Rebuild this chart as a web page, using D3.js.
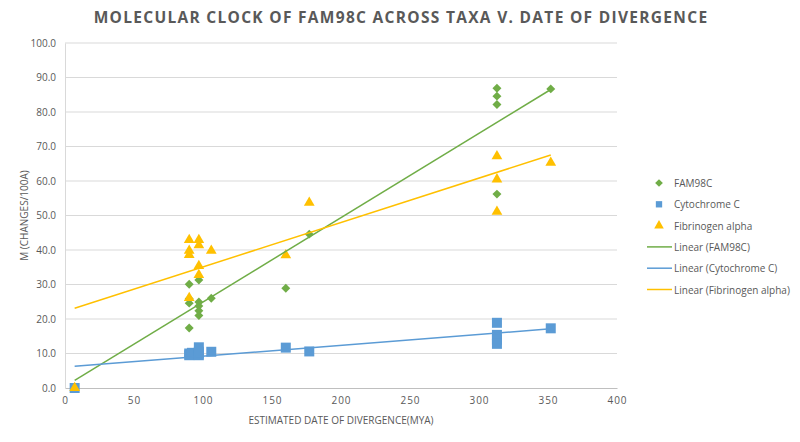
<!DOCTYPE html>
<html>
<head>
<meta charset="utf-8">
<script src="https://cdn.jsdelivr.net/npm/d3@7"></script>
<style>
  body { margin: 0; background: #fff; }
  text { font-family: "Open Sans", "Liberation Sans", sans-serif; fill: #595959; }
</style>
</head>
<body>
<svg width="800" height="442"></svg>
<script>
// data (x = date of divergence in MYA, y = changes per 100 aa)
let famX = [7, 90, 90, 90, 90, 97, 97, 97, 97, 97, 106, 160, 177, 313, 313, 313, 313, 352];
let famY = [0, 30.1, 25.9, 24.6, 17.4, 31.3, 24.9, 23.8, 22.4, 21.0, 26.0, 28.9, 44.6, 86.9, 84.6, 82.2, 56.2, 86.7];

let cytX = [7, 90, 90, 92, 97, 97, 97, 97, 106, 160, 177, 313, 313, 313, 313, 352];
let cytY = [0, 10, 9.5, 10.2, 9.5, 10, 11.8, 10.5, 10.5, 11.7, 10.6, 18.9, 15.4, 14, 12.8, 17.3];

let fibX = [7, 90, 90, 90, 90, 97, 97, 97, 97, 106, 160, 177, 313, 313, 313, 352];
let fibY = [0, 42.9, 39.8, 38.6, 26.1, 42.9, 41.4, 35.4, 32.8, 39.8, 38.5, 53.7, 67.2, 60.5, 51.1, 65.3];

let xTicks = [0, 50, 100, 150, 200, 250, 300, 350, 400];
let yTicks = [0, 10, 20, 30, 40, 50, 60, 70, 80, 90, 100];

let seriesNames = ["FAM98C", "Cytochrome C", "Fibrinogen alpha"];
let colors = ["#70AD47", "#5B9BD5", "#FFC000"];

var svg = d3.select("svg");
var margin = { left: 65, right: 183, top: 43, bottom: 54 };
var width = 800 - margin.left - margin.right;
var height = 442 - margin.top - margin.bottom;

var chart = svg.append("g")
    .attr("transform", "translate(" + margin.left + "," + margin.top + ")");

let xScale = d3.scaleLinear().domain([0, 400]).range([0, width]);
let yScale = d3.scaleLinear().domain([0, 100]).range([height, 0]);

// title
svg.append("text")
    .attr("x", 401)
    .attr("y", 23)
    .attr("text-anchor", "middle")
    .style("font-size", "15.5px")
    .style("font-weight", "bold")
    .style("letter-spacing", "1.3px")
    .text("MOLECULAR CLOCK OF FAM98C ACROSS TAXA V. DATE OF DIVERGENCE");

// gridlines
chart.append("g")
    .selectAll("line")
    .data(yTicks.slice(1))
    .enter().append("line")
    .attr("x1", 0)
    .attr("x2", width)
    .attr("y1", d => yScale(d))
    .attr("y2", d => yScale(d))
    .attr("stroke", "#D9D9D9")
    .attr("stroke-width", 1);

// axes
let xAxis = d3.axisBottom(xScale).tickValues(xTicks).tickSize(0).tickPadding(9);
let yAxis = d3.axisLeft(yScale).tickValues(yTicks).tickSize(0).tickPadding(9)
    .tickFormat(d3.format(".1f"));

let gx = chart.append("g")
    .attr("transform", "translate(0," + height + ")")
    .call(xAxis);
gx.select(".domain").attr("stroke", "#BFBFBF");
gx.selectAll("text").style("font-size", "10px").style("letter-spacing", "1px").attr("fill", "#595959");

let gy = chart.append("g").call(yAxis);
gy.select(".domain").attr("stroke", "#D9D9D9");
gy.selectAll("text").style("font-size", "10px").attr("fill", "#595959");

// axis titles
svg.append("text")
    .attr("transform", "translate(28," + (margin.top + height / 2) + ") rotate(-90)")
    .attr("text-anchor", "middle")
    .style("font-size", "10px")
    .text("M (CHANGES/100A)");

svg.append("text")
    .attr("x", margin.left + width / 2)
    .attr("y", 424)
    .attr("text-anchor", "middle")
    .style("font-size", "10px")
    .text("ESTIMATED DATE OF DIVERGENCE(MYA)");

// trendlines (least squares, like excel)
function fit(xs, ys) {
    let mx = d3.mean(xs), my = d3.mean(ys);
    let sxy = d3.sum(xs, (x, i) => (x - mx) * (ys[i] - my));
    let sxx = d3.sum(xs, x => (x - mx) * (x - mx));
    let b = sxy / sxx;
    let a = my - b * mx;
    let x0 = d3.min(xs), x1 = d3.max(xs);
    return [[x0, a + b * x0], [x1, a + b * x1]];
}

let allX = [famX, cytX, fibX];
let allY = [famY, cytY, fibY];
let line = d3.line().x(d => xScale(d[0])).y(d => yScale(d[1]));

// markers
let symbols = [
    d3.symbol().type(d3.symbolSquare).size(40),
    d3.symbol().type(d3.symbolSquare).size(100),
    d3.symbol().type(d3.symbolTriangle).size(50)
];

for (let s = 0; s < 3; s++) {
    let pts = allX[s].map((x, i) => [x, allY[s][i]]);
    chart.append("g")
        .selectAll("path")
        .data(pts)
        .enter().append("path")
        .attr("d", symbols[s]())
        .attr("fill", colors[s])
        .attr("transform", d => "translate(" + xScale(d[0]) + "," + yScale(d[1]) + ")" + (s == 0 ? " rotate(45)" : ""));
}

for (let s = 0; s < 3; s++) {
    chart.append("path")
        .datum(fit(allX[s], allY[s]))
        .attr("d", line)
        .attr("fill", "none")
        .attr("stroke", colors[s])
        .attr("stroke-width", 1.5);
}

// legend
let legend = svg.append("g").attr("transform", "translate(647,183)");
let rowH = 21.3;
for (let s = 0; s < 3; s++) {
    legend.append("path")
        .attr("d", d3.symbol().type(s == 2 ? d3.symbolTriangle : d3.symbolSquare).size(s == 0 ? 30 : 40)())
        .attr("transform", "translate(12," + (s * rowH) + ")" + (s == 0 ? " rotate(45)" : ""))
        .attr("fill", colors[s]);
    legend.append("text")
        .attr("x", 27)
        .attr("y", s * rowH + 4)
        .style("font-size", "10px")
        .text(seriesNames[s]);
}
for (let s = 0; s < 3; s++) {
    let yy = (s + 3) * rowH;
    legend.append("line")
        .attr("x1", 0).attr("x2", 25)
        .attr("y1", yy).attr("y2", yy)
        .attr("stroke", colors[s])
        .attr("stroke-width", 1.5);
    legend.append("text")
        .attr("x", 27)
        .attr("y", yy + 4)
        .style("font-size", "10px")
        .text("Linear (" + seriesNames[s] + ")");
}
</script>
</body>
</html>
